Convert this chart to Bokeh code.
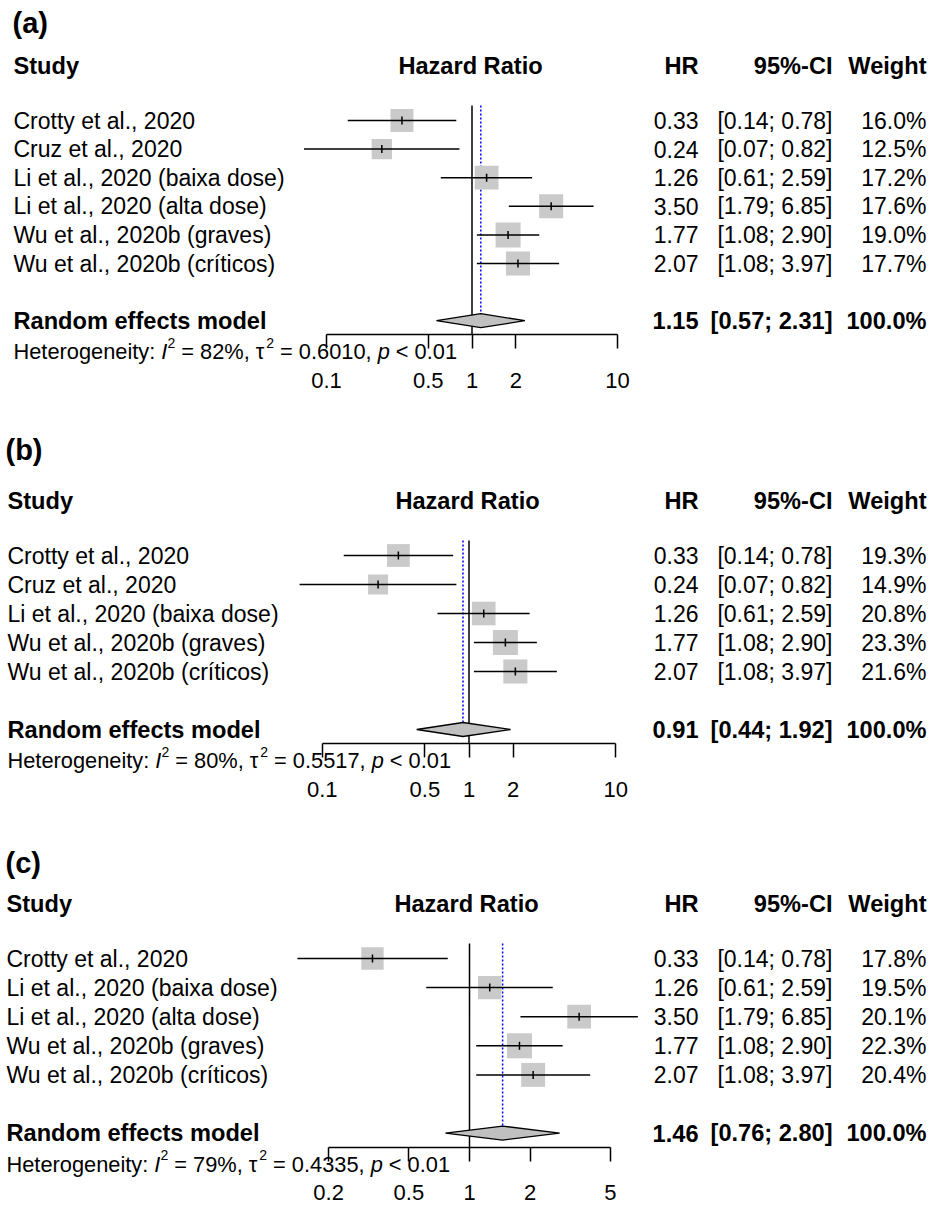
import numpy as np
from bokeh.plotting import figure
from bokeh.models import Range1d, LinearScale, FixedTicker, CustomJSTickFormatter
from bokeh.layouts import column
from bokeh.embed import file_html
from bokeh.resources import INLINE
from bokeh.core.properties import value

# ---------------- data ----------------
studies_a = ["Crotty et al., 2020", "Cruz et al., 2020", "Li et al., 2020 (baixa dose)",
             "Li et al., 2020 (alta dose)", "Wu et al., 2020b (graves)", "Wu et al., 2020b (críticos)"]
hr_a = [0.33, 0.24, 1.26, 3.50, 1.77, 2.07]
lo_a = [0.14, 0.07, 0.61, 1.79, 1.08, 1.08]
hi_a = [0.78, 0.82, 2.59, 6.85, 2.90, 3.97]
w_a = [16.0, 12.5, 17.2, 17.6, 19.0, 17.7]
pooled_a = [1.15, 0.57, 2.31]
het_a = ["82%", "0.6010", "< 0.01"]
ticks_a = [0.1, 0.5, 1, 2, 10]

studies_b = ["Crotty et al., 2020", "Cruz et al., 2020", "Li et al., 2020 (baixa dose)",
             "Wu et al., 2020b (graves)", "Wu et al., 2020b (críticos)"]
hr_b = [0.33, 0.24, 1.26, 1.77, 2.07]
lo_b = [0.14, 0.07, 0.61, 1.08, 1.08]
hi_b = [0.78, 0.82, 2.59, 2.90, 3.97]
w_b = [19.3, 14.9, 20.8, 23.3, 21.6]
pooled_b = [0.91, 0.44, 1.92]
het_b = ["80%", "0.5517", "< 0.01"]
ticks_b = [0.1, 0.5, 1, 2, 10]

studies_c = ["Crotty et al., 2020", "Li et al., 2020 (baixa dose)", "Li et al., 2020 (alta dose)",
             "Wu et al., 2020b (graves)", "Wu et al., 2020b (críticos)"]
hr_c = [0.33, 1.26, 3.50, 1.77, 2.07]
lo_c = [0.14, 0.61, 1.79, 1.08, 1.08]
hi_c = [0.78, 2.59, 6.85, 2.90, 3.97]
w_c = [17.8, 19.5, 20.1, 22.3, 20.4]
pooled_c = [1.46, 0.76, 2.80]
het_c = ["79%", "0.4335", "< 0.01"]
ticks_c = [0.2, 0.5, 1, 2, 5]

tags = ["(a)", "(b)", "(c)"]
col_heads = ["Study", "Hazard Ratio", "HR", "95%-CI", "Weight"]
pooled_label = "Random effects model"

# ---------------- styling / layout ----------------
FONT = "Liberation Sans"
W = 932
FS = "23px"
FSB = "23.6px"
HET_F = 21.8
SUP_F = 14
HR_X, CI_X, W_X = 698, 832, 926
SQ_MAX = 25
SQ_COLOR = "#CACACA"
DIA_COLOR = "#C0C0C0"

layout_a = dict(H=408, c1=471.5, d=145.5, tag_x=12, tag_y=22, head_y=65, row0=120, sp=28.6, left=13, hz_x=470)
layout_b = dict(H=420, c1=468.5, d=146.7, tag_x=5, tag_y=41, head_y=92, row0=147, sp=29.0, left=7, hz_x=467)
layout_c = dict(H=379, c1=469.0, d=201.5, tag_x=5, tag_y=34, head_y=75, row0=130, sp=29.1, left=6, hz_x=466)

# Liberation Sans advance widths (1/1000 em)
ADV = {' ': 278, 'H': 722, 'e': 556, 't': 278, 'r': 333, 'o': 556, 'g': 556, 'n': 556, 'i': 222,
       'y': 500, ':': 278, 'I': 278, '=': 584, '%': 889, ',': 278, '.': 278, '<': 584, 'p': 556,
       'τ': 480}


def tw(s, f):
    return sum(ADV.get(ch, 556) for ch in s) / 1000.0 * f


def txt(p, x, y, t, size=FS, align="left", bold=False, italic=False):
    style = "bold" if bold else ("italic" if italic else "normal")
    if bold and size == FS:
        size = FSB
    p.text(x=x, y=y, text=t, x_range_name="px", text_font=value(FONT), text_font_size=size,
           text_align=align, text_baseline="middle", text_color="black", text_font_style=style)


def panel(tag, studies, hr, lo, hi, w, pooled, het, ticks, L):
    H, c1, d = L["H"], L["c1"], L["d"]
    xlo = 10 ** ((0 - c1) / d)
    xhi = 10 ** ((W - c1) / d)
    p = figure(width=W, height=H, x_axis_type="log", x_range=Range1d(xlo, xhi),
               y_range=Range1d(H, 0), y_axis_location=None, output_backend="svg",
               toolbar_location=None, min_border=0)
    p.extra_x_ranges = {"px": Range1d(0, W)}
    p.extra_x_scales = {"px": LinearScale()}
    p.xgrid.visible = False
    p.ygrid.visible = False
    p.outline_line_color = None
    p.background_fill_color = "white"
    p.border_fill_color = "white"

    n = len(studies)
    ys = [L["row0"] + i * L["sp"] for i in range(n)]
    y_re = L["row0"] + (n + 1) * L["sp"]
    axis_y = y_re + 14
    top = L["row0"] - 15
    est, plo, phi = pooled

    # axis
    ax = p.xaxis[0]
    ax.fixed_location = axis_y
    ax.bounds = (ticks[0], ticks[-1])
    ax.ticker = FixedTicker(ticks=ticks, minor_ticks=[])
    ax.formatter = CustomJSTickFormatter(code="return String(tick);")
    ax.major_tick_in = 0
    ax.major_tick_out = 14
    ax.minor_tick_in = 0
    ax.minor_tick_out = 0
    ax.axis_line_width = 1.5
    ax.major_tick_line_width = 1.5
    ax.axis_line_color = "black"
    ax.major_tick_line_color = "black"
    ax.major_label_text_font = FONT
    ax.major_label_text_font_size = "22px"
    ax.major_label_text_color = "black"
    ax.major_label_standoff = 24

    # reference line at 1 and pooled estimate line
    p.segment(x0=[1], x1=[1], y0=[top], y1=[axis_y], line_color="black", line_width=1.5)
    p.segment(x0=[est], x1=[est], y0=[top], y1=[y_re - 7], line_color="blue", line_width=1.5,
              line_dash="2 2")

    # squares, CIs, centre ticks
    wmax = max(w)
    sides = [SQ_MAX * np.sqrt(v / wmax) for v in w]
    p.scatter(x=hr, y=ys, size=sides, marker="square", fill_color=SQ_COLOR, line_color=None)
    p.segment(x0=lo, x1=hi, y0=ys, y1=ys, line_color="black", line_width=1.5)
    p.segment(x0=hr, x1=hr, y0=[y - 4 for y in ys], y1=[y + 4 for y in ys],
              line_color="black", line_width=1.5)

    # diamond
    p.patch(x=[plo, est, phi, est], y=[y_re, y_re - 7, y_re, y_re + 7], fill_color=DIA_COLOR,
            line_color="black", line_width=1.3)

    # texts
    txt(p, [L["tag_x"]], [L["tag_y"]], [tag], size="29px", bold=True)
    hy = L["head_y"]
    txt(p, [L["left"]], [hy], [col_heads[0]], bold=True)
    txt(p, [L["hz_x"]], [hy], [col_heads[1]], bold=True, align="center")
    txt(p, [HR_X], [hy], [col_heads[2]], bold=True, align="right")
    txt(p, [CI_X], [hy], [col_heads[3]], bold=True, align="right")
    txt(p, [W_X], [hy], [col_heads[4]], bold=True, align="right")

    txt(p, [L["left"]] * n, ys, studies)
    txt(p, [HR_X] * n, ys, ["%.2f" % v for v in hr], align="right")
    txt(p, [CI_X] * n, ys, ["[%.2f; %.2f]" % (a, b) for a, b in zip(lo, hi)], align="right")
    txt(p, [W_X] * n, ys, ["%.1f%%" % v for v in w], align="right")

    txt(p, [L["left"]], [y_re], [pooled_label], bold=True)
    txt(p, [HR_X], [y_re], ["%.2f" % est], bold=True, align="right")
    txt(p, [CI_X], [y_re], ["[%.2f; %.2f]" % (plo, phi)], bold=True, align="right")
    txt(p, [W_X], [y_re], ["100.0%"], bold=True, align="right")

    # heterogeneity line (pieces; spaces handled as advances, not drawn)
    hy2 = y_re + 31
    pieces = [("Heterogeneity: ", "n"), ("I", "i"), ("2", "s"), (" = %s, τ" % het[0], "n"),
              ("2", "s"), (" = %s, " % het[1], "n"), ("p", "i"), (" %s" % het[2], "n")]
    x = L["left"]
    hf = "%.1fpx" % HET_F
    for s, kind in pieces:
        f = SUP_F if kind == "s" else HET_F
        core = s.strip(" ")
        lead = s[:len(s) - len(s.lstrip(" "))]
        trail = s[len(s.rstrip(" ")):]
        x += tw(lead, f)
        if kind == "s":
            txt(p, [x], [hy2 - 9], [core], size="%dpx" % SUP_F)
        else:
            txt(p, [x], [hy2], [core], size=hf, italic=(kind == "i"))
        x += tw(core, f) + tw(trail, f)
    return p


pa = panel(tags[0], studies_a, hr_a, lo_a, hi_a, w_a, pooled_a, het_a, ticks_a, layout_a)
pb = panel(tags[1], studies_b, hr_b, lo_b, hi_b, w_b, pooled_b, het_b, ticks_b, layout_b)
pc = panel(tags[2], studies_c, hr_c, lo_c, hi_c, w_c, pooled_c, het_c, ticks_c, layout_c)

lay = column(pa, pb, pc, spacing=0)
open("out.html", "w").write(file_html(lay, INLINE))
